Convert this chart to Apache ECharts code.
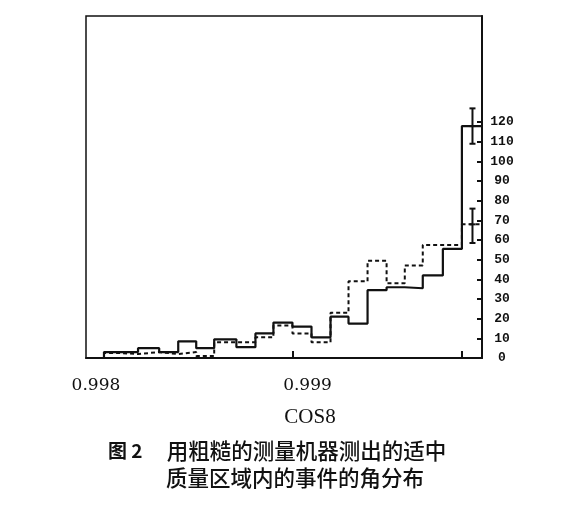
<!DOCTYPE html>
<html>
<head>
<meta charset="utf-8">
<script src="https://cdn.jsdelivr.net/npm/echarts@6/dist/echarts.min.js"></script>
<style>
  html, body { margin: 0; padding: 0; background: #fff; }
  #chart { width: 567px; height: 506px; }
</style>
</head>
<body>
<div id="chart"></div>
<script>
// bin edges in cos(theta)
const binEdges = [0.997953, 0.998038, 0.998118, 0.998199, 0.998299, 0.998389, 0.998474,
  0.998559, 0.998664, 0.998754, 0.998839, 0.998929, 0.999019, 0.999109, 0.999194,
  0.999284, 0.999374, 0.999460, 0.999545, 0.999640, 0.999730, 0.999825];
// solid histogram
const solidCounts = [0, 3, 3, 5, 3, 8.5, 5, 9.5, 5.5, 12.5, 18, 16, 10.5, 21, 17.5, 34.5, 36, 35.5, 42, 55.5, 118];
// dashed histogram
const dashedCounts = [0, 2.5, 2, 3, 2, 3, 1, 8, 8, 10.5, 16.5, 12.5, 8, 23, 39, 49.5, 38, 47, 57.5, 57.5, 68];
// error bars at the last bin
const errX = [0.99978, 0.99978];
const errLow = [109, 58.5];
const errHigh = [127, 76];
const errMid = [118, 68];
// tick labels
const xTickLabels = [0.998, 0.999];
const xTickMarks = [0.998929, 0.99973];
const yTickLabels = [0, 10, 20, 30, 40, 50, 60, 70, 80, 90, 100, 110, 120];

function stepData(counts) {
  const pts = counts.map((v, i) => [binEdges[i], v]);
  pts.push([binEdges[binEdges.length - 1], counts[counts.length - 1]]);
  return pts;
}

let myChart = echarts.init(document.getElementById('chart'));
myChart.setOption({
  animation: false,
  backgroundColor: '#fff',
  title: [
    {
      text: 'COS8', left: 310, top: 407, textAlign: 'center', padding: 0,
      textStyle: { fontFamily: 'Liberation Serif', fontSize: 21, fontWeight: 'normal', color: '#111' }
    },
    {
      text: '{b|图 2}{n|     用粗糙的测量机器测出的适中}', left: 108, top: 440, padding: 0,
      textStyle: {
        rich: {
          b: { fontFamily: 'Noto Sans CJK SC', fontSize: 19, fontWeight: 'bold', color: '#111' },
          n: { fontFamily: 'Noto Sans CJK SC', fontSize: 21.5, fontWeight: 500, color: '#111' }
        }
      }
    },
    {
      text: '质量区域内的事件的角分布', left: 166, top: 467, padding: 0,
      textStyle: { fontFamily: 'Noto Sans CJK SC', fontSize: 21.5, fontWeight: 500, color: '#111' }
    }
  ],
  grid: {
    left: 86, right: 85, top: 16, bottom: 148,
    show: true, borderColor: '#111', borderWidth: 1.5
  },
  xAxis: {
    type: 'value',
    min: binEdges[0],
    max: binEdges[binEdges.length - 1],
    axisLine: { show: true, lineStyle: { color: '#111', width: 2 } },
    axisTick: { show: true, inside: true, length: 7, customValues: xTickMarks, lineStyle: { color: '#111', width: 2 } },
    axisLabel: {
      customValues: xTickLabels,
      margin: 19,
      fontFamily: 'DejaVu Serif', fontSize: 17, color: '#111',
      formatter: v => v.toFixed(3)
    },
    splitLine: { show: false }
  },
  yAxis: {
    type: 'value',
    position: 'right',
    min: 0, max: 174,
    axisLine: { show: true, lineStyle: { color: '#111', width: 2 } },
    axisTick: { show: true, inside: true, length: 5, customValues: yTickLabels, lineStyle: { color: '#111', width: 2 } },
    axisLabel: {
      customValues: yTickLabels,
      margin: 20, align: 'center',
      fontFamily: 'Liberation Mono', fontSize: 13, fontWeight: 'bold', color: '#111'
    },
    splitLine: { show: false }
  },
  series: [
    {
      name: 'dashed', type: 'line', step: 'end', symbol: 'none',
      data: stepData(dashedCounts),
      lineStyle: { color: '#111', width: 2, type: [4, 3] },
      z: 2
    },
    {
      name: 'solid', type: 'line', step: 'end', symbol: 'none',
      data: stepData(solidCounts),
      lineStyle: { color: '#111', width: 2.2 },
      z: 3
    },
    {
      name: 'errors', type: 'custom',
      data: errX.map((x, i) => [x, errLow[i], errHigh[i], errMid[i]]),
      renderItem: function (params, api) {
        const lo = api.coord([api.value(0), api.value(1)]);
        const hi = api.coord([api.value(0), api.value(2)]);
        const mid = api.coord([api.value(0), api.value(3)]);
        const st = { stroke: '#111', lineWidth: 2 };
        return {
          type: 'group',
          children: [
            { type: 'line', shape: { x1: lo[0], y1: lo[1], x2: hi[0], y2: hi[1] }, style: st },
            { type: 'line', shape: { x1: lo[0] - 3, y1: lo[1], x2: lo[0] + 3, y2: lo[1] }, style: st },
            { type: 'line', shape: { x1: hi[0] - 3, y1: hi[1], x2: hi[0] + 3, y2: hi[1] }, style: st },
            { type: 'line', shape: { x1: mid[0] - 3, y1: mid[1], x2: mid[0] + 3, y2: mid[1] }, style: st }
          ]
        };
      },
      z: 4
    }
  ]
});
</script>
</body>
</html>
